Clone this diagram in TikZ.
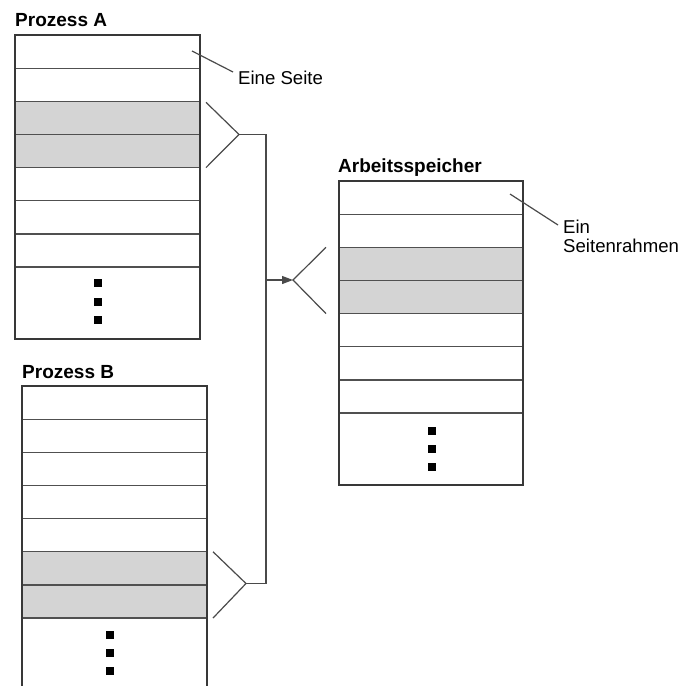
\documentclass[tikz,border=0pt]{standalone}
\usepackage{fontspec}
\setmainfont{Liberation Sans}
\usetikzlibrary{calc,arrows.meta}
\definecolor{pagegray}{HTML}{D4D4D4}
\definecolor{frameline}{HTML}{383838}
\definecolor{rowline}{HTML}{505050}
\definecolor{leadline}{HTML}{4A4A4A}
\begin{document}
\begin{tikzpicture}[x=1pt,y=-1pt,
  frame/.style={draw=frameline,line width=1.8pt},
  slot/.style={draw=rowline,line width=1.2pt,minimum width=#1,minimum height=33.15pt,
    inner sep=0pt,outer sep=0pt,anchor=north west},
  slot/.default=185pt,
  used/.style={slot=#1,fill=pagegray},
  used/.default=185pt,
  rest/.style={draw=rowline,line width=1.2pt,minimum width=#1,inner sep=0pt,outer sep=0pt,anchor=north west},
  lead/.style={draw=leadline,line width=1.2pt},
  title/.style={font=\bfseries\fontsize{19}{22}\selectfont,anchor=base west,inner sep=0pt},
  note/.style={font=\fontsize{18.6}{19}\selectfont,anchor=base west,inner sep=0pt},
  dot/.style={fill=black,minimum size=8pt,inner sep=0pt,outer sep=0pt}
]
\useasboundingbox (0,0) rectangle (682,686);
\clip (0,0) rectangle (682,686);

% ---------- Prozess A ----------
\node[title] (tA) at (15,26) {Prozess A};
\node[slot] (a1) at (15,35) {};
\node[slot] (a2) at (a1.south west) {};
\node[used] (a3) at (a2.south west) {};
\node[used] (a4) at (a3.south west) {};
\node[slot] (a5) at (a4.south west) {};
\node[slot] (a6) at (a5.south west) {};
\node[slot] (a7) at (a6.south west) {};
\node[rest=185pt,minimum height=72pt] (a8) at (a7.south west) {};
\draw[frame] (a1.north west) rectangle (a8.south east);
\node[dot] (ad1) at (98,283) {};
\node[dot] (ad2) at (98,301.5) {};
\node[dot] (ad3) at (98,320) {};

% ---------- Prozess B ----------
\node[title] (tB) at (22,378) {Prozess B};
\node[slot] (b1) at (22,386) {};
\node[slot] (b2) at (b1.south west) {};
\node[slot] (b3) at (b2.south west) {};
\node[slot] (b4) at (b3.south west) {};
\node[slot] (b5) at (b4.south west) {};
\node[used] (b6) at (b5.south west) {};
\node[used] (b7) at (b6.south west) {};
\node[rest=185pt,minimum height=90pt] (b8) at (b7.south west) {};
\draw[frame] (b1.south west) -- (b1.north west) -- (b1.north east) -- (b1.south east);
\draw[frame] (b1.north west) -- (b8.south west);
\draw[frame] (b1.north east) -- (b8.south east);
\node[dot] (bd1) at (110,635) {};
\node[dot] (bd2) at (110,653) {};
\node[dot] (bd3) at (110,671) {};

% ---------- Arbeitsspeicher ----------
\node[title] (tM) at (338,172) {Arbeitsspeicher};
\node[slot=184pt] (m1) at (339,181) {};
\node[slot=184pt] (m2) at (m1.south west) {};
\node[used=184pt] (m3) at (m2.south west) {};
\node[used=184pt] (m4) at (m3.south west) {};
\node[slot=184pt] (m5) at (m4.south west) {};
\node[slot=184pt] (m6) at (m5.south west) {};
\node[slot=184pt] (m7) at (m6.south west) {};
\node[rest=184pt,minimum height=72pt] (m8) at (m7.south west) {};
\draw[frame] (m1.north west) rectangle (m8.south east);
\node[dot] (md1) at (432,431) {};
\node[dot] (md2) at (432,449) {};
\node[dot] (md3) at (432,467) {};

% ---------- Beschriftungen ----------
\coordinate (sA) at (192,51);
\coordinate (sB) at (233,72);
\draw[lead] (sA) -- (sB);
\node[note] (nA) at (238,84) {Eine Seite};

\coordinate (rA) at (510,194);
\coordinate (rB) at (558,225);
\draw[lead] (rA) -- (rB);
\node[note] (nM1) at (563,233.5) {Ein};
\node[note] (nM2) at (563,252) {Seitenrahmen};

% ---------- Klammern und Zuordnung ----------
\coordinate (kA) at (239,134.5);
\coordinate (kB) at (246,583.5);
\coordinate (bus) at (266,134.5);
\coordinate (busB) at (266,583.5);
\coordinate (busM) at (266,280);
\coordinate (kM) at (293,280);

\draw[lead] ($(a3.north east)+(6,1)$) -- (kA) -- ($(a4.south east)+(6,0)$);
\draw[lead] ($(b6.north east)+(6,0)$) -- (kB) -- ($(b7.south east)+(6,0)$);
\draw[lead] ($(m3.north west)+(-13,0)$) -- (kM) -- ($(m4.south west)+(-13,0)$);
\draw[lead] (kA) -- (bus) -- (busB) -- (kB);
\draw[lead,-{Triangle[length=11pt,width=8pt]}] (busM) -- (kM);
\end{tikzpicture}
\end{document}
